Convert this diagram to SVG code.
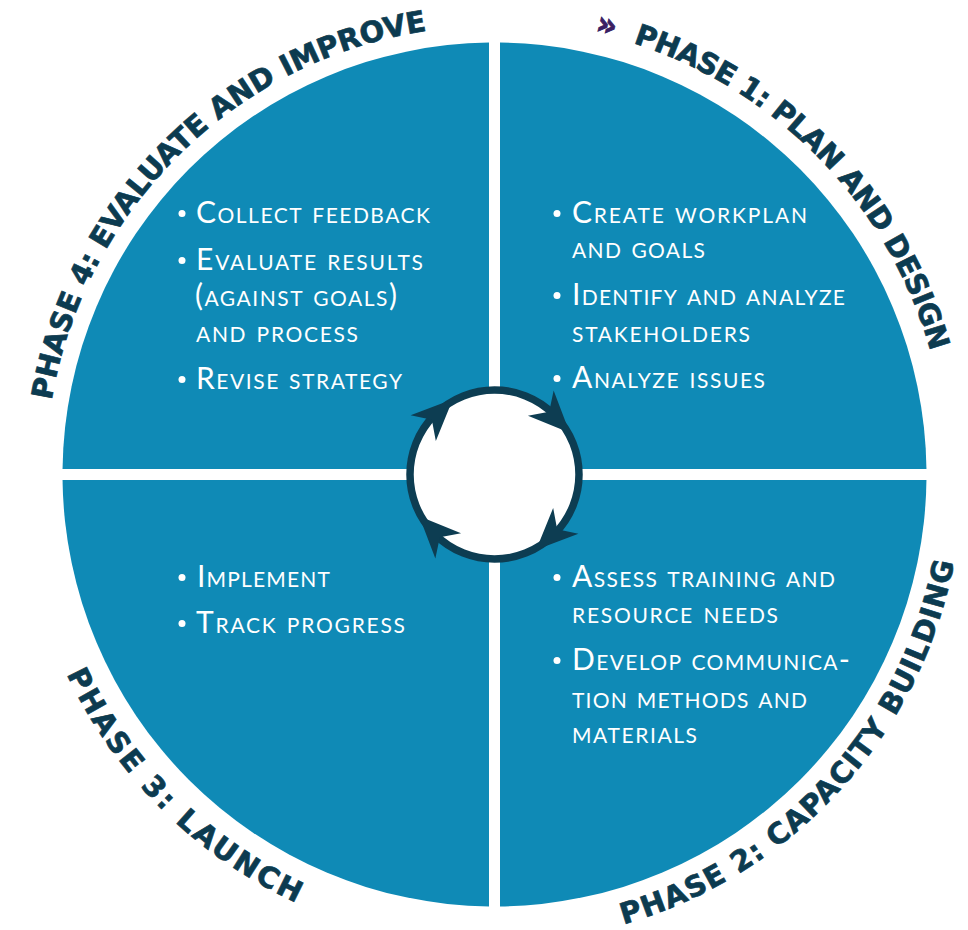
<svg xmlns="http://www.w3.org/2000/svg" width="968" height="930" viewBox="0 0 968 930">
<defs>
<style>
.quad{fill:#0f8ab6}
.item{font-family:Lato,"Open Sans","Liberation Sans",sans-serif;font-size:30px;font-variant:small-caps;fill:#ffffff}
.bul{fill:#ffffff}
.phase{font-family:"DejaVu Sans","Liberation Sans",sans-serif;font-weight:700;font-size:29px;fill:#0c3b50;stroke:#0c3b50;stroke-width:0.7px}
.chev{font-family:"DejaVu Sans","Liberation Sans",sans-serif;font-weight:700;font-size:32px;fill:#3b1f63;stroke:#3b1f63;stroke-width:0.9px}
.ring{fill:#ffffff;stroke:#0d3d52;stroke-width:7.5}
.head{fill:#0d3d52}
</style>
<path id="arc4" d="M51.66,400.39 A449,449 0 0 1 494.5,25.5"/>
<path id="arc1" d="M592.55,32.24 A453,453 0 0 1 945.8,435.0"/>
<path id="arc2" d="M623.5,924.4 A468,468 0 0 0 960.7,515.3"/>
<path id="arc3" d="M66.7,674.0 A472,472 0 0 0 372.3,930.4"/>
<path id="ah" d="M86,0 L92.4,-44.7 L78.2,-28.3 L57.7,-35.1 Z"/>
</defs>
<rect width="968" height="930" fill="#ffffff"/>

<g id="quadrant-phase4">
<path class="quad" d="M489,469 L489,42.54 A432,432 0 0 0 62.54,469 Z"/>
<circle class="bul" cx="182" cy="213.5" r="3.5"/>
<text class="item" x="196" y="223" textLength="234">Collect feedback</text>
<circle class="bul" cx="182" cy="260.5" r="3.5"/>
<text class="item" x="196" y="270" textLength="227">Evaluate results</text>
<text class="item" x="195" y="306" textLength="202">(against goals)</text>
<text class="item" x="196" y="342" textLength="162">and process</text>
<circle class="bul" cx="182" cy="379.5" r="3.5"/>
<text class="item" x="196" y="389" textLength="206">Revise strategy</text>
</g>

<g id="quadrant-phase1">
<path class="quad" d="M500,469 L500,42.54 A432,432 0 0 1 926.46,469 Z"/>
<circle class="bul" cx="557" cy="213.5" r="3.5"/>
<text class="item" x="572" y="223" textLength="235">Create workplan</text>
<text class="item" x="572" y="258" textLength="133">and goals</text>
<circle class="bul" cx="557" cy="295.5" r="3.5"/>
<text class="item" x="572" y="305" textLength="273">Identify and analyze</text>
<text class="item" x="572" y="342" textLength="178">stakeholders</text>
<circle class="bul" cx="557" cy="378.5" r="3.5"/>
<text class="item" x="572" y="388" textLength="193">Analyze issues</text>
</g>

<g id="quadrant-phase2">
<path class="quad" d="M500,480 L926.46,480 A432,432 0 0 1 500,906.46 Z"/>
<circle class="bul" cx="557" cy="577.5" r="3.5"/>
<text class="item" x="572" y="587" textLength="263">Assess training and</text>
<text class="item" x="572" y="623" textLength="206">resource needs</text>
<circle class="bul" cx="557" cy="660.5" r="3.5"/>
<text class="item" x="572" y="670" textLength="278">Develop communica-</text>
<text class="item" x="572" y="708" textLength="235">tion methods and</text>
<text class="item" x="572" y="743" textLength="125">materials</text>
</g>

<g id="quadrant-phase3">
<path class="quad" d="M489,480 L489,906.46 A432,432 0 0 1 62.54,480 Z"/>
<circle class="bul" cx="182" cy="577.5" r="3.5"/>
<text class="item" x="197" y="587" textLength="133">Implement</text>
<circle class="bul" cx="182" cy="623.5" r="3.5"/>
<text class="item" x="196" y="633" textLength="209">Track progress</text>
</g>

<g id="label-phase1">
<text class="chev"><textPath href="#arc1" startOffset="2">»</textPath></text>
<text class="phase"><textPath href="#arc1" startOffset="42" textLength="446">PHASE 1: PLAN AND DESIGN</textPath></text>
</g>
<g id="label-phase2">
<text class="phase"><textPath href="#arc2" startOffset="0" textLength="516">PHASE 2: CAPACITY BUILDING</textPath></text>
</g>
<g id="label-phase3">
<text class="phase"><textPath href="#arc3" startOffset="0" textLength="331">PHASE 3: LAUNCH</textPath></text>
</g>
<g id="label-phase4">
<text class="phase"><textPath href="#arc4" startOffset="0" textLength="563">PHASE 4: EVALUATE AND IMPROVE</textPath></text>
</g>

<g id="connectors">
<circle class="ring" cx="494.5" cy="474.5" r="84.5"/>
<use href="#ah" class="head" transform="translate(494.5,474.5) rotate(-119)"/>
<use href="#ah" class="head" transform="translate(494.5,474.5) rotate(-29)"/>
<use href="#ah" class="head" transform="translate(494.5,474.5) rotate(61)"/>
<use href="#ah" class="head" transform="translate(494.5,474.5) rotate(151)"/>
</g>
</svg>
